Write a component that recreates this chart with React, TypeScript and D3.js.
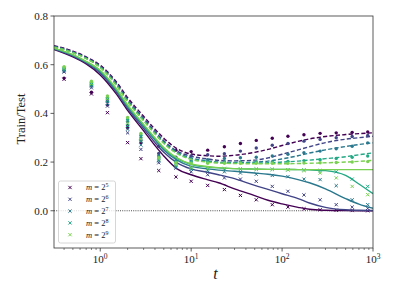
import React, { useEffect, useRef } from 'react';
import * as d3 from 'd3';

// grid used for the theory curves
const tGrid = [0.31, 0.5, 0.7, 1, 1.5, 2, 3, 4, 5, 7, 10, 15, 20, 30, 50, 70, 100, 150, 200, 300, 500, 700, 1000];

// solid lines (train, theory)
const train5 = [0.662, 0.632, 0.603, 0.558, 0.48, 0.412, 0.328, 0.268, 0.225, 0.172, 0.148, 0.128, 0.115, 0.09, 0.062, 0.043, 0.028, 0.014, 0.006, 0.002, 0.0005, 0.0002, 0.0001];
const train6 = [0.664, 0.635, 0.607, 0.565, 0.488, 0.42, 0.338, 0.28, 0.24, 0.197, 0.172, 0.158, 0.148, 0.132, 0.104, 0.088, 0.07, 0.05, 0.032, 0.014, 0.004, 0.002, 0.001];
const train7 = [0.666, 0.638, 0.61, 0.57, 0.494, 0.427, 0.346, 0.29, 0.25, 0.208, 0.182, 0.172, 0.167, 0.162, 0.155, 0.15, 0.142, 0.128, 0.115, 0.09, 0.05, 0.027, 0.01];
const train8 = [0.667, 0.64, 0.612, 0.574, 0.498, 0.432, 0.352, 0.296, 0.256, 0.214, 0.19, 0.18, 0.176, 0.173, 0.171, 0.17, 0.17, 0.169, 0.168, 0.165, 0.145, 0.11, 0.07];
const train9 = [0.668, 0.641, 0.614, 0.577, 0.502, 0.435, 0.355, 0.3, 0.26, 0.217, 0.192, 0.182, 0.177, 0.173, 0.171, 0.17, 0.17, 0.169, 0.169, 0.169, 0.169, 0.169, 0.169];

// dashed lines (test, theory)
const test5 = [0.678, 0.656, 0.632, 0.598, 0.53, 0.465, 0.388, 0.335, 0.298, 0.255, 0.233, 0.226, 0.224, 0.228, 0.24, 0.252, 0.268, 0.285, 0.295, 0.305, 0.313, 0.317, 0.32];
const test6 = [0.676, 0.653, 0.629, 0.594, 0.524, 0.457, 0.38, 0.326, 0.288, 0.245, 0.224, 0.213, 0.207, 0.205, 0.208, 0.217, 0.232, 0.25, 0.263, 0.28, 0.294, 0.3, 0.306];
const test7 = [0.674, 0.651, 0.627, 0.591, 0.52, 0.452, 0.374, 0.32, 0.282, 0.24, 0.217, 0.205, 0.2, 0.198, 0.2, 0.204, 0.213, 0.226, 0.237, 0.25, 0.264, 0.272, 0.279];
const test8 = [0.673, 0.65, 0.626, 0.589, 0.517, 0.449, 0.371, 0.317, 0.278, 0.237, 0.213, 0.202, 0.198, 0.196, 0.196, 0.197, 0.2, 0.204, 0.208, 0.214, 0.222, 0.23, 0.238];
const test9 = [0.672, 0.649, 0.625, 0.588, 0.515, 0.447, 0.369, 0.315, 0.276, 0.235, 0.211, 0.2, 0.196, 0.194, 0.193, 0.193, 0.193, 0.194, 0.195, 0.197, 0.2, 0.203, 0.207];

// measured points
const tObs = [0.4, 0.8, 1.2, 2, 2.8, 4.4, 6.8, 10, 15.2, 23.2, 34.8, 52, 78, 116, 174, 262, 394, 590, 875];

const obsTrain5 = [0.54, 0.48, 0.403, 0.28, 0.214, 0.165, 0.139, 0.121, 0.104, 0.087, 0.063, 0.045, 0.025, 0.015, 0.008, 0.004, 0.002, 0.001, 0.0];
const obsTrain6 = [0.57, 0.505, 0.43, 0.32, 0.252, 0.197, 0.175, 0.16, 0.148, 0.135, 0.13, 0.121, 0.1, 0.08, 0.065, 0.045, 0.025, 0.015, 0.01];
const obsTrain7 = [0.575, 0.512, 0.44, 0.335, 0.27, 0.205, 0.18, 0.17, 0.165, 0.16, 0.155, 0.15, 0.145, 0.14, 0.13, 0.128, 0.103, 0.045, 0.025];
const obsTrain8 = [0.58, 0.518, 0.452, 0.35, 0.285, 0.21, 0.185, 0.175, 0.172, 0.17, 0.17, 0.17, 0.17, 0.168, 0.168, 0.165, 0.16, 0.13, 0.1];
const obsTrain9 = [0.585, 0.522, 0.46, 0.36, 0.295, 0.215, 0.19, 0.178, 0.175, 0.174, 0.173, 0.172, 0.17, 0.168, 0.165, 0.155, 0.135, 0.1, 0.066];

const obsTest5 = [0.545, 0.487, 0.435, 0.34, 0.28, 0.265, 0.249, 0.243, 0.249, 0.263, 0.276, 0.289, 0.298, 0.306, 0.312, 0.318, 0.32, 0.322, 0.324];
const obsTest6 = [0.575, 0.515, 0.45, 0.35, 0.29, 0.235, 0.22, 0.225, 0.23, 0.234, 0.245, 0.258, 0.269, 0.276, 0.286, 0.293, 0.3, 0.305, 0.309];
const obsTest7 = [0.58, 0.522, 0.46, 0.365, 0.3, 0.225, 0.205, 0.205, 0.21, 0.215, 0.218, 0.22, 0.225, 0.232, 0.238, 0.245, 0.255, 0.265, 0.279];
const obsTest8 = [0.588, 0.528, 0.465, 0.375, 0.31, 0.22, 0.2, 0.2, 0.2, 0.2, 0.2, 0.2, 0.2, 0.203, 0.206, 0.21, 0.215, 0.22, 0.225];
const obsTest9 = [0.592, 0.532, 0.472, 0.383, 0.318, 0.218, 0.197, 0.195, 0.195, 0.195, 0.195, 0.195, 0.195, 0.195, 0.196, 0.197, 0.198, 0.2, 0.202];

const exponents = ['5', '6', '7', '8', '9'];
const colors = ['#440154', '#414487', '#2a788e', '#22a884', '#7ad151'];

const trainCurves = [train5, train6, train7, train8, train9];
const testCurves = [test5, test6, test7, test8, test9];
const trainObs = [obsTrain5, obsTrain6, obsTrain7, obsTrain8, obsTrain9];
const testObs = [obsTest5, obsTest6, obsTest7, obsTest8, obsTest9];

const yTicks = [0.0, 0.2, 0.4, 0.6, 0.8];
const xTicks = [1, 10, 100, 1000];
const xTickExp = ['0', '1', '2', '3'];

const W = 394;
const H = 296;
const margin = { left: 54, right: 21, top: 16, bottom: 48 };
const FONT = "'Liberation Serif', 'DejaVu Serif', serif";

const App: React.FC = () => {
  const ref = useRef<SVGSVGElement>(null);

  useEffect(() => {
    if (!ref.current) return;
    const svg = d3.select(ref.current);
    svg.selectAll('*').remove();

    const x = d3.scaleLog().domain([0.31, 1000]).range([margin.left, W - margin.right]);
    const y = d3.scaleLinear().domain([-0.153, 0.8]).range([H - margin.bottom, margin.top]);

    svg.append('defs').append('clipPath').attr('id', 'plot-clip')
      .append('rect')
      .attr('x', margin.left).attr('y', margin.top)
      .attr('width', W - margin.left - margin.right)
      .attr('height', H - margin.top - margin.bottom);

    const plot = svg.append('g').attr('clip-path', 'url(#plot-clip)');

    // zero line
    plot.append('line')
      .attr('x1', margin.left).attr('x2', W - margin.right)
      .attr('y1', y(0)).attr('y2', y(0))
      .attr('stroke', '#000').attr('stroke-width', 0.7)
      .attr('stroke-dasharray', '1,1.2');

    const line = d3.line<number>()
      .x((_, i) => x(tGrid[i]))
      .y(d => y(d))
      .curve(d3.curveMonotoneX);

    colors.forEach((c, k) => {
      plot.append('path')
        .attr('d', line(trainCurves[k]) || '')
        .attr('fill', 'none').attr('stroke', c).attr('stroke-width', 1.4);
      plot.append('path')
        .attr('d', line(testCurves[k]) || '')
        .attr('fill', 'none').attr('stroke', c).attr('stroke-width', 1.4)
        .attr('stroke-dasharray', '4.2,2.2');

      const s = 1.6;
      const g = plot.append('g');
      trainObs[k].forEach((v, i) => {
        const px = x(tObs[i]);
        const py = y(v);
        g.append('path')
          .attr('d', `M${px - s},${py - s}L${px + s},${py + s}M${px - s},${py + s}L${px + s},${py - s}`)
          .attr('stroke', c).attr('stroke-width', 1).attr('fill', 'none');
      });
      testObs[k].forEach((v, i) => {
        g.append('circle')
          .attr('cx', x(tObs[i])).attr('cy', y(v)).attr('r', 1.7)
          .attr('fill', c);
      });
    });

    // frame
    svg.append('rect')
      .attr('x', margin.left).attr('y', margin.top)
      .attr('width', W - margin.left - margin.right)
      .attr('height', H - margin.top - margin.bottom)
      .attr('fill', 'none').attr('stroke', '#333').attr('stroke-width', 0.8);

    // y axis
    const yAxis = svg.append('g').attr('font-family', FONT).attr('font-size', 11).attr('fill', '#222');
    yTicks.forEach(v => {
      yAxis.append('line')
        .attr('x1', margin.left - 3.5).attr('x2', margin.left)
        .attr('y1', y(v)).attr('y2', y(v))
        .attr('stroke', '#333').attr('stroke-width', 0.8);
      yAxis.append('text')
        .attr('x', margin.left - 6).attr('y', y(v))
        .attr('dy', '0.35em').attr('text-anchor', 'end')
        .text(v.toFixed(1));
    });

    // x axis with minor ticks
    const xAxis = svg.append('g').attr('font-family', FONT).attr('fill', '#222');
    const bottom = H - margin.bottom;
    const minor: number[] = [];
    for (let e = -1; e < 3; e++) {
      for (let m = 2; m < 10; m++) {
        const v = m * Math.pow(10, e);
        if (v >= 0.31 && v <= 1000) minor.push(v);
      }
    }
    minor.forEach(v => {
      xAxis.append('line')
        .attr('x1', x(v)).attr('x2', x(v))
        .attr('y1', bottom).attr('y2', bottom + 2)
        .attr('stroke', '#333').attr('stroke-width', 0.6);
    });
    xTicks.forEach((v, i) => {
      xAxis.append('line')
        .attr('x1', x(v)).attr('x2', x(v))
        .attr('y1', bottom).attr('y2', bottom + 3.5)
        .attr('stroke', '#333').attr('stroke-width', 0.8);
      const t = xAxis.append('text')
        .attr('x', x(v)).attr('y', bottom + 15)
        .attr('text-anchor', 'middle').attr('font-size', 11);
      t.append('tspan').text('10');
      t.append('tspan').attr('dy', -4).attr('font-size', 7.5).text(xTickExp[i]);
    });

    // axis labels
    svg.append('text')
      .attr('x', (margin.left + W - margin.right) / 2 + 2).attr('y', 279)
      .attr('text-anchor', 'middle').attr('font-family', FONT)
      .attr('font-style', 'italic').attr('font-size', 16).attr('fill', '#222')
      .text('t');
    svg.append('text')
      .attr('transform', 'translate(25,119) rotate(-90)')
      .attr('text-anchor', 'middle').attr('font-family', FONT)
      .attr('font-size', 12.5).attr('fill', '#222')
      .text('Train/Test');

    // legend
    const lg = svg.append('g').attr('font-family', FONT);
    lg.append('rect')
      .attr('x', 58.5).attr('y', 181).attr('width', 57).attr('height', 62).attr('rx', 2)
      .attr('fill', 'rgba(255,255,255,0.8)').attr('stroke', '#ccc').attr('stroke-width', 0.8);
    colors.forEach((c, k) => {
      const ly = 187.5 + k * 11.8;
      const s = 1.6;
      lg.append('path')
        .attr('d', `M${70 - s},${ly - s}L${70 + s},${ly + s}M${70 - s},${ly + s}L${70 + s},${ly - s}`)
        .attr('stroke', c).attr('stroke-width', 1);
      const t = lg.append('text').attr('x', 86).attr('y', ly).attr('dy', '0.35em')
        .attr('font-size', 8.5).attr('fill', '#222');
      t.append('tspan').attr('font-style', 'italic').text('m');
      t.append('tspan').text(' = 2');
      t.append('tspan').attr('dy', -3).attr('font-size', 6).text(exponents[k]);
    });
  }, []);

  return <svg ref={ref} width={W} height={H} style={{ display: 'block', position: 'absolute', left: 0, top: 0 }} />;
};

export default App;
